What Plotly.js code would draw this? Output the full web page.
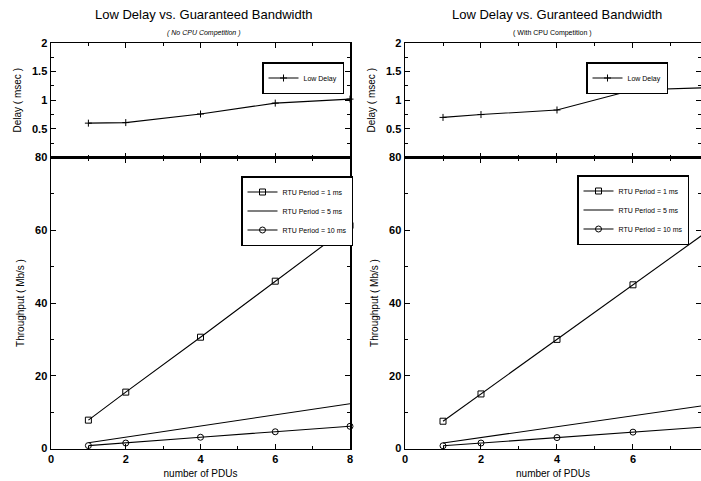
<!DOCTYPE html>
<html>
<head>
<meta charset="utf-8">
<script src="https://cdn.plot.ly/plotly-3.0.1.min.js"></script>
<style>html,body{margin:0;padding:0;background:#fff;}#chart{width:701px;height:481px;}</style>
</head>
<body>
<div id="chart"></div>
<script>
// ---- data ----
const pdus = [1, 2, 4, 6, 8];
const delayNoComp = [0.60, 0.61, 0.76, 0.95, 1.02];
const delayWithComp = [0.70, 0.75, 0.83, 1.18, 1.22];
const thr1msNoComp = [7.8, 15.5, 30.6, 46.0, 61.3];
const thr5msNoComp = [1.6, 3.1, 6.2, 9.3, 12.3];
const thr10msNoComp = [0.8, 1.5, 3.1, 4.6, 6.1];
const thr1msWithComp = [7.5, 15.0, 30.0, 45.0, 60.0];
const thr5msWithComp = [1.5, 3.0, 6.0, 9.0, 12.0];
const thr10msWithComp = [0.75, 1.5, 3.0, 4.5, 6.0];
const seriesNames = ['Low Delay', 'RTU Period = 1 ms', 'RTU Period = 5 ms', 'RTU Period = 10 ms'];
const titles = ['Low Delay vs. Guaranteed Bandwidth', 'Low Delay vs. Guranteed Bandwidth'];
const subtitles = ['( No CPU Competition )', '( With CPU Competition )'];
const xTicks = [0, 2, 4, 6, 8];
const delayTicks = [0.5, 1, 1.5, 2];
const thrTicks = [0, 20, 40, 60, 80];

const FONT = 'Liberation Sans, Arial, Helvetica, sans-serif';
const line = {color: '#000', width: 1.1};

function tr(x, y, name, xa, ya, sym, legend, mode) {
  return {
    x: x, y: y, name: name, xaxis: xa, yaxis: ya, type: 'scatter',
    mode: mode || 'lines+markers', line: line, legend: legend, cliponaxis: false,
    marker: {symbol: sym, size: sym === 'cross-thin-open' ? 5 : 6, color: '#000',
             line: {color: '#000', width: 1}}
  };
}

const data = [
  tr(pdus, delayNoComp, seriesNames[0], 'x', 'y', 'cross-thin-open', 'legend'),
  tr(pdus, thr1msNoComp, seriesNames[1], 'x2', 'y2', 'square-open', 'legend2'),
  tr(pdus, thr5msNoComp, seriesNames[2], 'x2', 'y2', 'line-ew-open', 'legend2', 'lines'),
  tr(pdus, thr10msNoComp, seriesNames[3], 'x2', 'y2', 'circle-open', 'legend2'),
  tr(pdus, delayWithComp, seriesNames[0], 'x3', 'y3', 'cross-thin-open', 'legend3'),
  tr(pdus, thr1msWithComp, seriesNames[1], 'x4', 'y4', 'square-open', 'legend4'),
  tr(pdus, thr5msWithComp, seriesNames[2], 'x4', 'y4', 'line-ew-open', 'legend4', 'lines'),
  tr(pdus, thr10msWithComp, seriesNames[3], 'x4', 'y4', 'circle-open', 'legend4')
];

const W = 701, H = 481;
const px = v => v / W, py = v => 1 - v / H;

function xax(domain, range, anchor, showLabels, title, lw) {
  const a = {
    domain: domain, range: range, anchor: anchor, showgrid: false, zeroline: false,
    showline: true, linecolor: '#000', linewidth: lw || 1.5, mirror: 'allticks',
    ticks: 'inside', ticklen: 5, tickwidth: 1, tickcolor: '#000',
    tickvals: xTicks, showticklabels: showLabels,
    tickfont: {family: FONT, size: 11, color: '#000', weight: 'bold'},
    minor: {ticks: 'inside', ticklen: 3, tickcolor: '#000', dtick: 1, tick0: 0},
    fixedrange: true
  };
  if (title) a.title = {text: title, font: {family: FONT, size: 10, color: '#000'}, standoff: 6};
  return a;
}
function yax(domain, range, anchor, ticks, minorDtick, title) {
  return {
    domain: domain, range: range, anchor: anchor, showgrid: false, zeroline: false,
    showline: true, linecolor: '#000', linewidth: 1.5, mirror: 'allticks',
    ticks: 'inside', ticklen: 5, tickwidth: 1, tickcolor: '#000',
    tickvals: ticks, ticktext: ticks.map(String),
    tickfont: {family: FONT, size: 11, color: '#000', weight: 'bold'},
    minor: {ticks: 'inside', ticklen: 3, tickcolor: '#000', dtick: minorDtick, tick0: 0},
    title: {text: title, font: {family: FONT, size: 10, color: '#000'}, standoff: 8},
    fixedrange: true
  };
}

const lx = [px(51), px(350)];
const rx = [px(405), 1];
const topD = [py(157.5), py(43)];
const botD = [py(448.5), py(157.5)];

function legendCfg(x, y, fs) {
  return {x: x, y: y, xref: 'paper', yref: 'paper', xanchor: 'left', yanchor: 'top',
          bgcolor: '#fff', bordercolor: '#000', borderwidth: 1.5,
          font: {family: FONT, size: fs, color: '#000'}, itemwidth: 30,
          tracegroupgap: 0, traceorder: 'normal'};
}

function ann(text, x, y, size) {
  return {text: text, x: px(x), y: py(y), xref: 'paper', yref: 'paper', showarrow: false,
          xanchor: 'center', yanchor: 'middle', font: {family: FONT, size: size, color: '#000'}};
}

const layout = {
  width: W, height: H, paper_bgcolor: '#fff', plot_bgcolor: '#fff',
  margin: {l: 0, r: 0, t: 0, b: 0},
  showlegend: true,
  font: {family: FONT, color: '#000'},
  xaxis: xax(lx, [0, 8], 'y', false, null, 1),
  yaxis: yax(topD, [0, 2], 'x', delayTicks, 0.25, 'Delay ( msec )'),
  xaxis2: xax(lx, [0, 8], 'y2', true, 'number of PDUs'),
  yaxis2: yax(botD, [0, 80], 'x2', thrTicks, 10, 'Throughput ( Mb/s )'),
  xaxis3: xax(rx, [0, 7.79], 'y3', false, null, 1),
  yaxis3: yax(topD, [0, 2], 'x3', delayTicks, 0.25, 'Delay ( msec )'),
  xaxis4: xax(rx, [0, 7.79], 'y4', true, 'number of PDUs'),
  yaxis4: yax(botD, [0, 80], 'x4', thrTicks, 10, 'Throughput ( Mb/s )'),
  legend: legendCfg(px(262), py(62), 7),
  legend2: legendCfg(px(241), py(176), 7),
  legend3: legendCfg(px(586), py(62), 7),
  legend4: legendCfg(px(577), py(175), 7),
  annotations: [
    ann(titles[0], 204, 14, 13),
    ann(titles[1], 557, 14, 13),
    ann('<i>' + subtitles[0] + '</i>', 204, 33, 7),
    ann(subtitles[1], 552, 33, 7)
  ]
};

Plotly.newPlot('chart', data, layout, {staticPlot: true, displayModeBar: false});
</script>
</body>
</html>
